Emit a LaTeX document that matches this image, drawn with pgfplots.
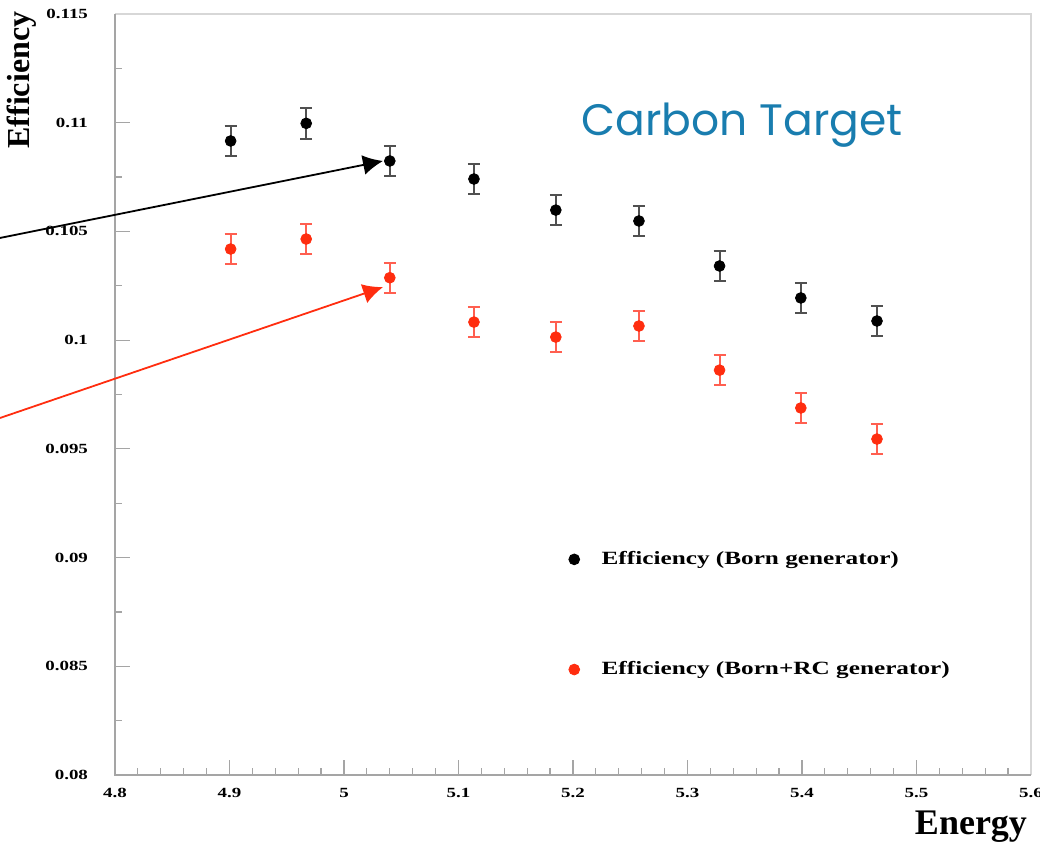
\documentclass[border=0pt]{standalone}
\usepackage{fontspec}
\setmainfont{Liberation Serif}
\newfontfamily\rootfont{Liberation Serif}[FakeStretch=1.35]
\newfontfamily\ctfont{Poppins}
\usepackage{pgfplots}
\pgfplotsset{compat=1.18}
\usetikzlibrary{arrows.meta}
\definecolor{ptred}{RGB}{255,45,15}
\definecolor{barred}{RGB}{255,95,80}
\definecolor{bargray}{RGB}{80,80,80}
\definecolor{ctblue}{RGB}{25,125,175}
\definecolor{axgray}{RGB}{165,165,165}
\definecolor{boxgray}{RGB}{215,215,215}
\begin{document}
\begin{tikzpicture}
\begin{axis}[
  at={(0,0)}, anchor=south west,
  scale only axis, width=458pt, height=380.5pt,
  xmin=4.8, xmax=5.6, ymin=0.08, ymax=0.115,
  clip=false,
  axis line style={draw=none},
  xtick={4.8,4.9,5,5.1,5.2,5.3,5.4,5.5,5.6},
  xticklabels={4.8,4.9,5,5.1,5.2,5.3,5.4,5.5,5.6},
  ytick={0.08,0.085,0.09,0.095,0.1,0.105,0.11,0.115},
  yticklabels={0.08,0.085,0.09,0.095,0.1,0.105,0.11,0.115},
  minor x tick num=4, minor y tick num=1,
  tick align=inside, xtick pos=bottom, ytick pos=left,
  major tick length=7.5pt, minor tick length=3.5pt,
  every tick/.style={axgray, line width=0.6pt},
  /pgf/number format/assume math mode=true,
  ticklabel style={font=\rootfont\bfseries\fontsize{7}{8}\selectfont},
  yticklabel style={xshift=-10pt},
  xticklabel style={yshift=-3pt},
  legend style={draw=none, fill=none, at={(rel axis cs:0.4885,0.305)}, anchor=north west,
    font=\rootfont\bfseries\fontsize{9.35}{10}\selectfont, row sep=43pt,
    /tikz/every odd column/.append style={column sep=9pt}},
  legend image code/.code={\draw[#1] plot coordinates {(0pt,0pt)};},
  legend cell align=left,
]
% axis frame
\draw[boxgray, line width=0.8pt] (rel axis cs:0,1) -- (rel axis cs:1,1) -- (rel axis cs:1,0);
\draw[axgray, line width=0.8pt] (rel axis cs:0,1) -- (rel axis cs:0,0) -- (rel axis cs:1,0);

\addplot[only marks, mark=*, mark size=2.7pt, black,
  error bars/.cd, y dir=both, y explicit,
  error bar style={line width=1pt, bargray},
  error mark options={rotate=90, mark size=3pt, line width=1pt, bargray}]
coordinates {
(4.901,0.10916) +- (0,0.0007)
(4.967,0.10997) +- (0,0.0007)
(5.040,0.10824) +- (0,0.0007)
(5.1135,0.10741) +- (0,0.0007)
(5.185,0.10598) +- (0,0.0007)
(5.2576,0.10548) +- (0,0.0007)
(5.328,0.10341) +- (0,0.0007)
(5.399,0.10194) +- (0,0.0007)
(5.4655,0.10088) +- (0,0.0007)
};
\addplot[only marks, mark=*, mark size=2.7pt, ptred,
  error bars/.cd, y dir=both, y explicit,
  error bar style={line width=1pt, barred},
  error mark options={rotate=90, mark size=3pt, line width=1pt, barred}]
coordinates {
(4.901,0.10419) +- (0,0.0007)
(4.967,0.10465) +- (0,0.0007)
(5.040,0.10287) +- (0,0.0007)
(5.1135,0.10083) +- (0,0.0007)
(5.185,0.10014) +- (0,0.0007)
(5.2576,0.10065) +- (0,0.0007)
(5.328,0.09862) +- (0,0.0007)
(5.399,0.09688) +- (0,0.0007)
(5.4655,0.09545) +- (0,0.0007)
};
\legend{Efficiency (Born generator),Efficiency (Born+RC generator)}

\draw[black, line width=0.9pt, -{Latex[length=10pt,width=10pt]}] (axis cs:4.6996,0.10470) -- (axis cs:5.0341,0.10824);
\draw[ptred, line width=0.9pt, -{Latex[length=10pt,width=10pt]}] (axis cs:4.6996,0.09642) -- (axis cs:5.0341,0.10244);

\node[ctblue, font=\ctfont\fontsize{22}{26}\selectfont] at (rel axis cs:0.6845,0.854) {Carbon Target};
\node[rotate=90, font=\bfseries\fontsize{16}{18}\selectfont] at (rel axis cs:-0.1015,0.913) {Efficiency};
\node[font=\bfseries\fontsize{18}{20}\selectfont] at (rel axis cs:0.9345,-0.068) {Energy};
\end{axis}
\pgfresetboundingbox
\path (-57.5pt,-37.5pt) rectangle (462.5pt,387.5pt);
\end{tikzpicture}
\end{document}
